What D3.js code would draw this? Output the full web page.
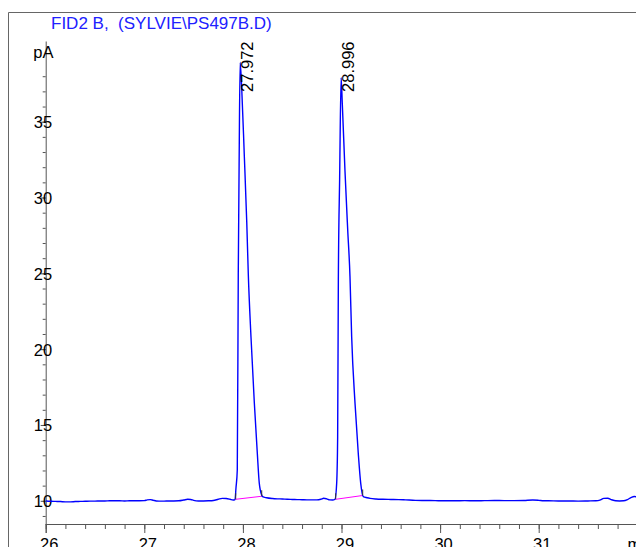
<!DOCTYPE html>
<html>
<head>
<meta charset="utf-8">
<script src="https://cdn.jsdelivr.net/npm/d3@7"></script>
<style>
  html, body { margin: 0; padding: 0; background: #fff; }
  svg { display: block; font-family: "Liberation Sans", Arial, sans-serif; }
</style>
</head>
<body>
<svg id="chart" width="636" height="547"></svg>
<script>
// FID2 B signal, retention time (min) vs detector response (pA)
const title = "FID2 B,  (SYLVIE\\PS497B.D)";
const yUnit = "pA";

const times = [
  26.00, 26.05, 26.10, 26.15, 26.20, 26.25, 26.30, 26.35, 26.40, 26.45,
  26.50, 26.55, 26.60, 26.65, 26.70, 26.75, 26.80, 26.85, 26.90, 26.95,
  27.00, 27.03, 27.06, 27.09, 27.12, 27.15, 27.20, 27.25, 27.30, 27.35,
  27.40, 27.44, 27.47, 27.50, 27.55, 27.60, 27.65, 27.70, 27.75, 27.79,
  27.83, 27.87, 27.90, 27.92,
  27.930, 27.943, 27.953, 27.962, 27.972, 27.988, 28.014, 28.039, 28.055,
  28.082, 28.116, 28.146, 28.166, 28.191,
  28.20, 28.24, 28.30, 28.35, 28.40, 28.45, 28.50, 28.55, 28.60, 28.65,
  28.70, 28.75, 28.79, 28.82, 28.85, 28.88, 28.91, 28.934,
  28.951, 28.961, 28.968, 28.981, 28.996, 29.008, 29.035, 29.063, 29.086,
  29.103, 29.137, 29.170, 29.195, 29.221,
  29.26, 29.29, 29.35, 29.42, 29.50, 29.58, 29.65, 29.75, 29.85, 29.95,
  30.05, 30.15, 30.25, 30.35, 30.45, 30.55, 30.65, 30.75, 30.85, 30.94,
  31.00, 31.05, 31.10, 31.20, 31.30, 31.40, 31.50, 31.58, 31.62, 31.66,
  31.70, 31.74, 31.78, 31.82, 31.86, 31.90, 31.94, 31.97, 32.00
];

const signal = [
  9.99, 9.97, 9.96, 9.95, 9.93, 9.93, 9.95, 9.96, 9.97, 9.98,
  9.98, 9.99, 9.99, 10.00, 10.00, 10.00, 9.99, 10.00, 10.00, 10.00,
  10.01, 10.06, 10.08, 10.04, 9.99, 9.98, 9.98, 9.99, 9.99, 10.00,
  10.05, 10.10, 10.09, 10.03, 9.99, 9.99, 10.00, 10.02, 10.10, 10.16,
  10.15, 10.10, 10.05, 10.08,
  10.86, 12.03, 24.9, 32.5, 38.9, 37.2, 32.8, 28.4, 24.9,
  20.8, 16.45, 13.15, 11.17, 10.38,
  10.27, 10.20, 10.15, 10.13, 10.12, 10.10, 10.09, 10.08, 10.07, 10.06,
  10.06, 10.06, 10.10, 10.17, 10.13, 10.06, 10.05, 10.10,
  11.15, 14.23, 24.56, 31.2, 37.9, 36.2, 31.8, 27.86, 24.8,
  20.83, 16.44, 13.14, 11.15, 10.27,
  10.20, 10.16, 10.12, 10.10, 10.09, 10.08, 10.06, 10.03, 10.02, 10.01,
  10.00, 10.00, 10.01, 10.00, 10.01, 10.02, 10.01, 10.01, 10.02, 10.05,
  10.03, 10.00, 10.00, 9.99, 9.99, 9.98, 9.99, 10.00, 10.04, 10.16,
  10.17, 10.07, 10.00, 9.99, 10.00, 10.08, 10.23, 10.28, 10.25
];

// integrated peaks: apex retention time and baseline start/end
const peakRT = [27.972, 28.996];
const peakLabels = ["27.972", "28.996"];
const baseStartT = [27.927, 28.941];
const baseStartV = [10.10, 10.10];
const baseEndT = [28.191, 29.215];
const baseEndV = [10.30, 10.35];

const xMajor = [26, 27, 28, 29, 30, 31, 32];
const xMajorLabels = ["26", "27", "28", "29", "30", "31", "min"];
const yMajor = [10, 15, 20, 25, 30, 35];

const svg = d3.select("#chart");
const W = 636, H = 547;

const x = d3.scaleLinear().domain([26, 32]).range([45.7, 637.3]);
const y = d3.scaleLinear().domain([10, 35]).range([500.8, 121.7]);
const axisY0 = 524;      // x-axis position
const axisTop = 41.5;    // top of y axis

// outer frame
svg.append("line").attr("x1", 8.5).attr("x2", W).attr("y1", 12.5).attr("y2", 12.5)
  .attr("stroke", "#666").attr("stroke-width", 1);
svg.append("line").attr("x1", 8.5).attr("x2", 8.5).attr("y1", 12.5).attr("y2", H)
  .attr("stroke", "#666").attr("stroke-width", 1);

// title
svg.append("text").attr("x", 51).attr("y", 28.5)
  .attr("fill", "#2020ff").attr("font-size", 17)
  .style("white-space", "pre")
  .text(title);

const axisColor = "#555";

// x axis: minor ticks every 0.2 min, labelled majors every minute
const xMinor = d3.range(26, 32.01, 0.2).map(v => +v.toFixed(1));
const gxMinor = svg.append("g").attr("transform", `translate(0,${axisY0})`)
  .call(d3.axisBottom(x).tickValues(xMinor).tickSize(5).tickSizeOuter(0).tickFormat(""));
const gxMajor = svg.append("g").attr("transform", `translate(0,${axisY0})`)
  .call(d3.axisBottom(x).tickValues(xMajor).tickSize(9).tickSizeOuter(0)
    .tickFormat((d, i) => xMajorLabels[i]));
[gxMinor, gxMajor].forEach(g => {
  g.select(".domain").attr("stroke", axisColor);
  g.selectAll(".tick line").attr("stroke", axisColor);
});
gxMinor.select(".domain").attr("d", `M${x(26)},0.5H${W + 5}`);
gxMajor.select(".domain").remove();
gxMajor.selectAll(".tick text")
  .attr("dy", null).attr("y", 26).attr("x", 3)
  .attr("fill", "#000").attr("font-size", 16.5)
  .attr("font-family", "Liberation Sans, Arial, sans-serif");

// y axis: minor ticks every 1 pA, labelled majors every 5 pA
const yMinor = d3.range(9, 39);
const gyMinor = svg.append("g").attr("transform", `translate(${x(26)},0)`)
  .call(d3.axisLeft(y).tickValues(yMinor).tickSize(3).tickSizeOuter(0).tickFormat(""));
const gyMajor = svg.append("g").attr("transform", `translate(${x(26)},0)`)
  .call(d3.axisLeft(y).tickValues(yMajor).tickSize(5).tickSizeOuter(0).tickFormat(d3.format("d")));
[gyMinor, gyMajor].forEach(g => {
  g.selectAll(".tick line").attr("stroke", axisColor);
});
gyMinor.select(".domain").attr("stroke", axisColor)
  .attr("d", `M0.5,${axisTop}V${axisY0 + 9}`);
gyMajor.select(".domain").remove();
gyMajor.selectAll(".tick text")
  .attr("x", 6.5).attr("dy", "0.36em")
  .attr("fill", "#000").attr("font-size", 16.5)
  .attr("font-family", "Liberation Sans, Arial, sans-serif");

// unit label
svg.append("text").attr("x", 53.5).attr("y", 57.5)
  .attr("text-anchor", "end").attr("font-size", 16.5).attr("fill", "#000")
  .text(yUnit);

// clip the trace to the plot area
svg.append("clipPath").attr("id", "plotClip")
  .append("rect").attr("x", x(26)).attr("y", 0).attr("width", W - x(26)).attr("height", axisY0);

const data = times.map((t, i) => [t, signal[i]]);
const line = d3.line().x(d => x(d[0])).y(d => y(d[1])).curve(d3.curveMonotoneX);

// integration baselines
peakRT.forEach((rt, i) => {
  svg.append("line")
    .attr("x1", x(baseStartT[i])).attr("y1", y(baseStartV[i]))
    .attr("x2", x(baseEndT[i])).attr("y2", y(baseEndV[i]))
    .attr("stroke", "#ff00ff").attr("stroke-width", 1);
});

svg.append("path").datum(data)
  .attr("clip-path", "url(#plotClip)")
  .attr("fill", "none").attr("stroke", "#0000ff").attr("stroke-width", 1.4)
  .attr("stroke-linejoin", "round")
  .attr("d", line);

// peak start/end markers
peakRT.forEach((rt, i) => {
  [[baseStartT[i], baseStartV[i]], [baseEndT[i], baseEndV[i]]].forEach(p => {
    svg.append("line")
      .attr("x1", x(p[0])).attr("x2", x(p[0]))
      .attr("y1", y(p[1]) - 6).attr("y2", y(p[1]))
      .attr("stroke", "#333").attr("stroke-width", 1);
  });
});

// retention time labels, rotated, reading upward
peakRT.forEach((rt, i) => {
  const px = x(rt) + 12.5;
  svg.append("text")
    .attr("transform", `translate(${px},${axisTop}) rotate(-90)`)
    .attr("text-anchor", "end")
    .attr("font-size", 16.5).attr("fill", "#000")
    .text(peakLabels[i]);
});
</script>
</body>
</html>
